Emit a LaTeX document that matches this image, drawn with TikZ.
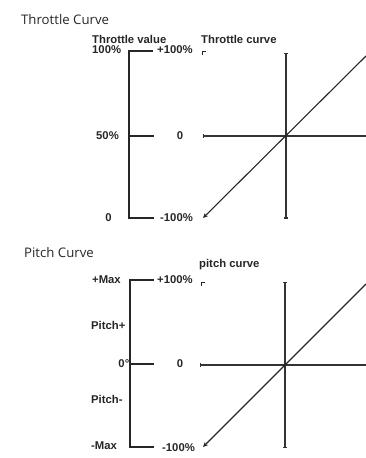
\documentclass[tikz,border=0pt]{standalone}
\usepackage{fontspec}
\setmainfont{Liberation Sans}
\newfontfamily\titlefont{Open Sans}
\usetikzlibrary{arrows.meta}
\begin{document}
\begin{tikzpicture}[x=1pt,y=-1pt,
  lbl/.style={inner sep=0pt,font=\fontsize{11.3}{12}\selectfont\bfseries,text=black!85},
  ttl/.style={inner sep=0pt,anchor=west,font=\titlefont\fontsize{13.2}{15}\selectfont,text=black!85},
  brk/.style={line width=1.3pt,black!85},
  axis/.style={line width=1.1pt,black!80},
  diag/.style={line width=1.1pt,black!85},
  corner/.style={line width=1.2pt,black!85}]
\useasboundingbox (0,0) rectangle (366,458);
% ---------------- Throttle curve ----------------
\node[ttl] (t1) at (21,20) {Throttle Curve};
\node[lbl,anchor=west] (tv) at (92,39.5) {Throttle value};
\node[lbl,anchor=west] (tc) at (201,39.5) {Throttle curve};
\node[lbl,anchor=west] (t100) at (92,49.5) {100\%};
\node[lbl,anchor=west] (tp100) at (157,49.5) {+100\%};
\node[lbl,anchor=west] (t50) at (96,136) {50\%};
\node[lbl] (tz) at (180,136) {0};
\node[lbl] (t0) at (108.5,218) {0};
\node[lbl,anchor=west] (tm100) at (160,218) {-100\%};
\coordinate (tA) at (129,51);
\coordinate (tAe) at (153,51);
\coordinate (tM) at (129,136);
\coordinate (tMe) at (154,136);
\coordinate (tC) at (129,218);
\coordinate (tCe) at (154,218);
\draw[brk] (tAe) -- (tA) -- (tC) -- (tCe);
\draw[brk] (tM) -- (tMe);
\coordinate (thL) at (203,136);
\coordinate (thR) at (366,136);
\coordinate (tvT) at (286,53);
\coordinate (tvB) at (286,218.5);
\coordinate (tdTR) at (366,56);
\coordinate (tdBL) at (203,218);
\draw[axis,{Bar[width=4pt]}-] (thL) -- (thR);
\draw[axis,{Bar[width=4pt]}-{Bar[width=4pt]}] (tvT) -- (tvB);
\draw[diag,-{Stealth[length=5pt,width=4.5pt]}] (tdTR) -- (tdBL);
\coordinate (tk1) at (202.5,55);
\coordinate (tk2) at (202.5,51.8);
\coordinate (tk3) at (205.5,51.8);
\draw[corner] (tk1) -- (tk2) -- (tk3);
% ---------------- Pitch curve ----------------
\node[ttl] (t2) at (24,252.5) {Pitch Curve};
\node[lbl,anchor=west] (pc) at (199,265) {pitch curve};
\node[lbl,anchor=west] (pmax) at (92,280) {+Max};
\node[lbl,anchor=west] (pp100) at (157,280) {+100\%};
\node[lbl,anchor=west] (ppl) at (91,325) {Pitch+};
\node[lbl,anchor=east] (p0deg) at (129.5,363.5) {0°};
\node[lbl] (pz) at (180,364) {0};
\node[lbl,anchor=west] (pmi) at (91,399) {Pitch-};
\node[lbl,anchor=west] (pmin) at (91,446) {-Max};
\node[lbl,anchor=west] (pm100) at (162,448) {-100\%};
\coordinate (pA) at (130,280);
\coordinate (pAe) at (154,280);
\coordinate (pM) at (130,364);
\coordinate (pMe) at (154,364);
\coordinate (pC) at (130,447);
\coordinate (pCe) at (154,447);
\draw[brk] (pAe) -- (pA) -- (pC) -- (pCe);
\draw[brk] (pM) -- (pMe);
\coordinate (phL) at (200,365);
\coordinate (phR) at (366,365);
\coordinate (pvT) at (285,282);
\coordinate (pvB) at (285,448);
\coordinate (pdTR) at (366,284);
\coordinate (pdBL) at (203,447);
\draw[axis,{Bar[width=4pt]}-] (phL) -- (phR);
\draw[axis,{Bar[width=4pt]}-{Bar[width=4pt]}] (pvT) -- (pvB);
\draw[diag,-{Stealth[length=5pt,width=4.5pt]}] (pdTR) -- (pdBL);
\coordinate (pk1) at (201.5,285.5);
\coordinate (pk2) at (201.5,282.5);
\coordinate (pk3) at (204.5,282.5);
\draw[corner] (pk1) -- (pk2) -- (pk3);
\end{tikzpicture}
\end{document}
